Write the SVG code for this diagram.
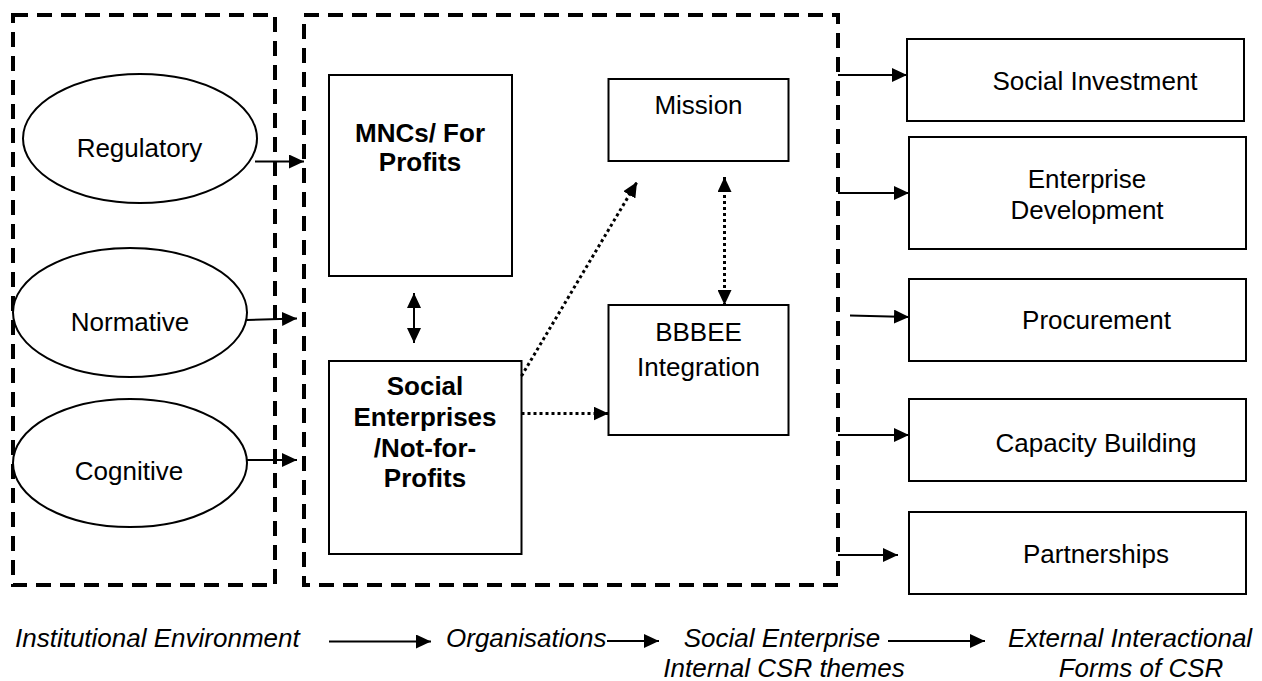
<svg xmlns="http://www.w3.org/2000/svg" width="1262" height="681" viewBox="0 0 1262 681">
  <style>
    text { font-family: "Liberation Sans", Arial, sans-serif; font-size: 26px; fill: #000; }
    .b { font-weight: bold; }
    .i { font-style: italic; }
    .frame { fill: none; stroke: #000; stroke-width: 4; stroke-dasharray: 15 9; }
    .box { fill: #fff; stroke: #000; stroke-width: 2; }
    .oval { fill: #fff; stroke: #000; stroke-width: 2; }
    .arr { fill: none; stroke: #000; stroke-width: 2; marker-end: url(#head); }
    .dot { fill: none; stroke: #000; stroke-width: 3; stroke-dasharray: 3 3; marker-end: url(#head); }
  </style>
  <defs>
    <marker id="head" markerUnits="userSpaceOnUse" markerWidth="16" markerHeight="14" refX="15" refY="7" orient="auto">
      <path d="M0,0 L15,7 L0,14 z" fill="#000"/>
    </marker>
    <marker id="tail" markerUnits="userSpaceOnUse" markerWidth="16" markerHeight="14" refX="0" refY="7" orient="auto">
      <path d="M15,0 L0,7 L15,14 z" fill="#000"/>
    </marker>
  </defs>
  <rect width="1262" height="681" fill="#fff"/>

  <!-- outer dashed frames -->
  <g id="institutional-frame">
    <rect class="frame" x="13" y="15" width="262" height="570"/>
  </g>
  <g id="organisations-frame">
    <rect class="frame" x="304" y="15" width="534" height="570"/>
  </g>

  <!-- institutional pillars -->
  <g id="regulatory">
    <ellipse class="oval" cx="140" cy="138.5" rx="117" ry="64.5"/>
    <text x="139.5" y="157" text-anchor="middle">Regulatory</text>
  </g>
  <g id="normative">
    <ellipse class="oval" cx="130" cy="312.5" rx="117" ry="64.5"/>
    <text x="130" y="331" text-anchor="middle">Normative</text>
  </g>
  <g id="cognitive">
    <ellipse class="oval" cx="130" cy="463" rx="117" ry="64"/>
    <text x="129" y="480" text-anchor="middle">Cognitive</text>
  </g>

  <!-- organisations -->
  <g id="mncs">
    <rect class="box" x="329" y="75" width="183" height="201"/>
    <text class="b" x="420" y="142" text-anchor="middle">MNCs/ For</text>
    <text class="b" x="420" y="171" text-anchor="middle">Profits</text>
  </g>
  <g id="social-enterprises">
    <rect class="box" x="329" y="361" width="192.5" height="193"/>
    <text class="b" x="425" y="395" text-anchor="middle">Social</text>
    <text class="b" x="425" y="426" text-anchor="middle">Enterprises</text>
    <text class="b" x="425" y="457" text-anchor="middle">/Not-for-</text>
    <text class="b" x="425" y="487" text-anchor="middle">Profits</text>
  </g>

  <!-- internal CSR themes -->
  <g id="mission">
    <rect class="box" x="608.5" y="79" width="180" height="82"/>
    <text x="698.5" y="114" text-anchor="middle">Mission</text>
  </g>
  <g id="bbbee">
    <rect class="box" x="608.5" y="305" width="180" height="130"/>
    <text x="698.5" y="341" text-anchor="middle">BBBEE</text>
    <text x="698.5" y="376" text-anchor="middle">Integration</text>
  </g>

  <!-- external forms of CSR -->
  <g id="social-investment">
    <rect class="box" x="907" y="39" width="337" height="82"/>
    <text x="1095" y="89.5" text-anchor="middle">Social Investment</text>
  </g>
  <g id="enterprise-development">
    <rect class="box" x="909" y="137" width="337" height="112"/>
    <text x="1087" y="188" text-anchor="middle">Enterprise</text>
    <text x="1087" y="219" text-anchor="middle">Development</text>
  </g>
  <g id="procurement">
    <rect class="box" x="909" y="279" width="337" height="82"/>
    <text x="1096.5" y="329" text-anchor="middle">Procurement</text>
  </g>
  <g id="capacity-building">
    <rect class="box" x="909" y="399" width="337" height="82"/>
    <text x="1096" y="452" text-anchor="middle">Capacity Building</text>
  </g>
  <g id="partnerships">
    <rect class="box" x="909" y="512" width="337" height="82"/>
    <text x="1096" y="563" text-anchor="middle">Partnerships</text>
  </g>

  <!-- stage captions -->
  <g id="captions">
    <text class="i" x="15" y="647">Institutional Environment</text>
    <text class="i" x="446" y="647">Organisations</text>
    <text class="i" x="782" y="647" text-anchor="middle">Social Enterprise</text>
    <text class="i" x="784" y="677" text-anchor="middle">Internal CSR themes</text>
    <text class="i" x="1130" y="647" text-anchor="middle">External Interactional</text>
    <text class="i" x="1141" y="677" text-anchor="middle">Forms of CSR</text>
  </g>

  <!-- connectors -->
  <g id="connectors">
    <line class="arr" x1="255" y1="161.5" x2="304" y2="161.5"/>
    <line class="arr" x1="247" y1="320" x2="297" y2="318.5"/>
    <line class="arr" x1="247" y1="460" x2="297" y2="460"/>

    <line class="arr" x1="414" y1="293" x2="414" y2="343" marker-start="url(#tail)"/>

    <line class="dot" x1="521.5" y1="376" x2="637" y2="182"/>
    <line class="dot" x1="521.5" y1="413.5" x2="608.5" y2="413.5"/>
    <line class="dot" x1="724.5" y1="177" x2="724.5" y2="305" marker-start="url(#tail)"/>

    <line class="arr" x1="838" y1="75" x2="907" y2="75"/>
    <line class="arr" x1="838" y1="193" x2="909" y2="193"/>
    <line class="arr" x1="850" y1="315.5" x2="909" y2="317"/>
    <line class="arr" x1="838" y1="435" x2="909" y2="435"/>
    <line class="arr" x1="838" y1="555" x2="898" y2="555"/>

    <line class="arr" x1="329" y1="641.5" x2="431" y2="641.5"/>
    <line class="arr" x1="607" y1="641" x2="659" y2="641"/>
    <line class="arr" x1="888" y1="641" x2="985" y2="641"/>
  </g>
</svg>
